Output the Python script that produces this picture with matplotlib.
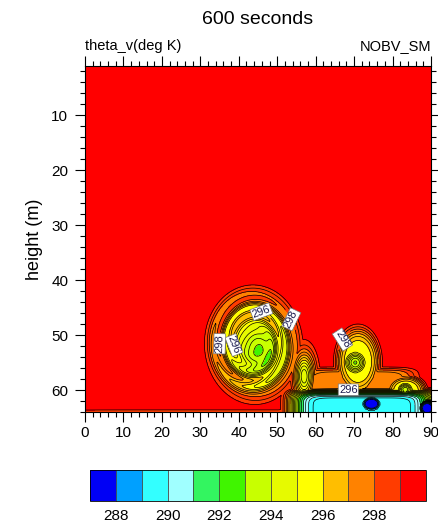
import numpy as np
import matplotlib.pyplot as plt
from matplotlib.ticker import MultipleLocator

plt.rcParams['font.family'] = ['Liberation Sans', 'DejaVu Sans']

# model grid (m)
x = np.linspace(0, 90, 361)
z = np.linspace(1, 64, 253)

theta_env = 299.6          # ambient theta_v (K)

fill_levels = np.arange(288, 300, 1)
line_levels = np.arange(287.5, 299.5, 0.5)
label_levels = [296, 298]
cbar_ticks = [288, 290, 292, 294, 296, 298]

# colour table, cold -> warm (below 288 ... above 299)
colors = ['#0000f5', '#00a0ff', '#33ffff', '#a0ffff', '#33f560', '#40f500',
          '#c8ff00', '#e6fa00', '#ffff00', '#ffbe00', '#ff8200', '#ff3c00',
          '#ff0000']

# rolled-up eddy on the left: outer ring, offset core, spiral bands
eddy_x, eddy_z = 43.5, 51.5
eddy_rx, eddy_rz = 13.0, 11.0
eddy_ring = 2.3
core_x, core_z = 45.5, 53.0
core_rx, core_rz = 7.0, 6.0
core_depth = 4.5
eddy_swirl = 1.2

# cold anomalies: centre, half widths, depth (K), edge sharpness,
# shape ('r' rounded, 's' flat slab)
blob_x     = [71.0, 57.0, 71.0, 70.3, 83.5, 83.3, 72.0, 74.5, 89.0, 45.0]
blob_z     = [59.0, 57.5, 54.8, 55.0, 60.0, 59.9, 64.5, 62.5, 63.3, 64.0]
blob_wx    = [15.0, 2.8,  5.6,  3.6,  5.0,  2.6,  18.5, 3.2,  2.4,  60.0]
blob_wz    = [3.0,  4.5,  6.0,  2.6,  2.6,  1.6,  4.5,  1.6,  1.6,  0.5]
blob_depth = [2.6,  5.5,  4.0,  6.7,  4.0,  6.5,  10.6, 13.0, 13.0, 0.9]
blob_sharp = [6,    2,    5,    2,    5,    2,    8,    4,    4,    8]
blob_shape = ['s',  'r',  'r',  'r',  'r',  'r',  's',  'r',  'r',  's']

# contour labels: (level, x, z)
lab_level = [298, 296, 296, 298, 298, 296]
lab_x     = [37.0, 44.5, 46.0, 54.0, 67.5, 68.5]
lab_z     = [51.5, 52.0, 45.5, 47.0, 51.0, 61.0]


def blob(X, Z, cx, cz, wx, wz, depth, p, shape):
    ax_, az_ = np.abs((X - cx) / wx), np.abs((Z - cz) / wz)
    if shape == 's':
        ex = ax_ ** p + az_ ** p
    else:
        ex = (ax_ ** 2 + az_ ** 2) ** (p / 2)
    return depth * np.exp(-ex)


X, Z = np.meshgrid(x, z)

dx = (X - eddy_x) / eddy_rx
dz = (Z - eddy_z) / eddy_rz
r = np.hypot(dx, dz)
ang = np.arctan2(dz, dx)
ring = eddy_ring * np.exp(-(r / 0.92) ** 8)
core = core_depth * np.exp(-((X - core_x) / core_rx) ** 2
                           - ((Z - core_z) / core_rz) ** 2)
band = np.exp(-((r - 0.62) / 0.25) ** 2)
swirl = eddy_swirl * np.sin(2 * np.pi * r / 0.3 - ang) * band
anom = np.clip(ring + core + swirl * (ring / eddy_ring), 0, None)

for i in range(len(blob_x)):
    b = blob(X, Z, blob_x[i], blob_z[i], blob_wx[i], blob_wz[i],
             blob_depth[i], blob_sharp[i], blob_shape[i])
    anom = np.maximum(anom, b)

theta = theta_env - anom

fig = plt.figure(figsize=(4.39, 5.27), dpi=100)
ax = fig.add_axes([85 / 439, 115 / 527, 346 / 439, 346 / 527])

cf = ax.contourf(X, Z, theta, levels=fill_levels, colors=colors[1:-1],
                 extend='both')
cf.cmap.set_under(colors[0])
cf.cmap.set_over(colors[-1])
plain = [v for v in line_levels if v not in label_levels]
ax.contour(X, Z, theta, levels=plain, colors='black', linewidths=0.5)

# labelled isotherms, one contour set per level
for lev in label_levels:
    cl = ax.contour(X, Z, theta, levels=[lev], colors='black', linewidths=0.5)
    pts = [(lab_x[i], lab_z[i]) for i in range(len(lab_level))
           if lab_level[i] == lev]
    ax.clabel(cl, manual=pts, fmt='%d', fontsize=8, inline=True,
              inline_spacing=2)
    for t in cl.labelTexts:
        t.set_color('#1c1c50')
        t.set_bbox(dict(facecolor='white', edgecolor='#777777',
                        linewidth=0.5, pad=0.6))

ax.set_xlim(0, 90)
ax.set_ylim(64, 1)
ax.xaxis.set_major_locator(MultipleLocator(10))
ax.xaxis.set_minor_locator(MultipleLocator(2))
ax.yaxis.set_major_locator(MultipleLocator(10))
ax.yaxis.set_minor_locator(MultipleLocator(2))
ax.tick_params(which='both', direction='out', top=True, right=True,
               labelsize=11, width=0.8)
ax.tick_params(which='major', length=7)
ax.tick_params(which='minor', length=3.5)
ax.tick_params(axis='x', pad=3)
ax.tick_params(axis='y', pad=5)
for s in ax.spines.values():
    s.set_linewidth(0.8)
ax.set_ylabel('height (m)', fontsize=13, labelpad=6)

ax.text(0, 1.038, 'theta_v(deg K)', transform=ax.transAxes, fontsize=10.5,
        ha='left', va='bottom')
ax.text(1, 1.038, 'NOBV_SM', transform=ax.transAxes, fontsize=10.5,
        ha='right', va='bottom')
fig.text(258 / 439, 1 - 19.5 / 527, '600 seconds', fontsize=14,
         ha='center', va='center')

cax = fig.add_axes([90 / 439, 26 / 527, 336 / 439, 31 / 527])
cb = fig.colorbar(cf, cax=cax, orientation='horizontal', extendrect=True,
                  extendfrac='auto', drawedges=True, ticks=cbar_ticks)
cb.outline.set_linewidth(0.6)
cb.dividers.set_linewidth(0.6)
cb.dividers.set_color('#444444')
cax.tick_params(length=0, labelsize=11, pad=6)

fig.savefig('out.png', dpi=100)
